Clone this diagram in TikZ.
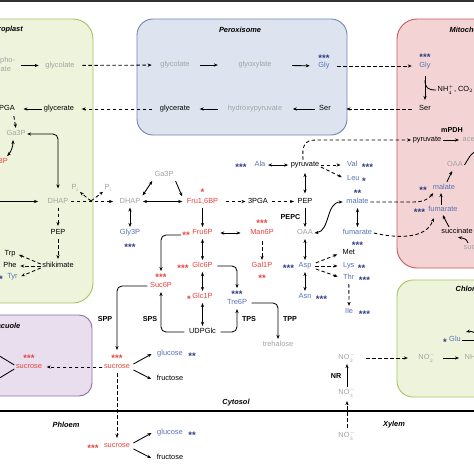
\documentclass[tikz,border=0pt]{standalone}
\usepackage{fontspec}
\setmainfont{Liberation Sans}
\usetikzlibrary{arrows.meta}
\definecolor{cgray}{HTML}{A3A3A3}
\definecolor{cred}{HTML}{E5433D}
\definecolor{cblue}{HTML}{5672B6}
\definecolor{cnavy}{HTML}{2D3C84}
\definecolor{chlfill}{HTML}{EEF3DC}
\definecolor{chldraw}{HTML}{A8C35E}
\definecolor{perfill}{HTML}{DDE4EF}
\definecolor{perdraw}{HTML}{7187B2}
\definecolor{mitfill}{HTML}{F3D3D3}
\definecolor{mitdraw}{HTML}{C65B5E}
\definecolor{vacfill}{HTML}{E8DEEE}
\definecolor{vacdraw}{HTML}{8F6EA8}
\newcommand{\fsn}{\fontsize{7.4}{9}\selectfont}
\newcommand{\fsb}{\fontsize{7.2}{8.5}\selectfont\bfseries}
\newcommand{\fsbi}{\fontsize{7.4}{8.5}\selectfont\bfseries\itshape}
\newcommand{\fss}{\fontsize{9.5}{10}\selectfont\bfseries}
\begin{document}
\begin{tikzpicture}[x=1pt,y=-1pt,
  nbase/.style={font=\fsn, inner sep=1.5pt, text height=5.3pt, text depth=1.5pt},
  ngray/.style={nbase, text=cgray},
  nred/.style={nbase, text=cred},
  nblue/.style={nbase, text=cblue},
  nblk/.style={nbase, text=black},
  nstar/.style={font=\fss, inner sep=1pt, text=cnavy},
  nrstar/.style={font=\fss, inner sep=1pt, text=cred},
  enzy/.style={font=\fsb, inner sep=1.5pt},
  titl/.style={font=\fsbi, inner sep=1.5pt},
  arr/.style={-{Stealth[length=4pt,width=3.2pt]}, line width=0.85pt},
  arr2/.style={{Stealth[length=4pt,width=3.2pt]}-{Stealth[length=4pt,width=3.2pt]}, line width=0.85pt},
  darr/.style={arr, dash pattern=on 3.5pt off 2.5pt},
  sh/.style 2 args={shorten <=#1, shorten >=#2},
  comp/.style={line width=0.9pt}]
\useasboundingbox (0,0) rectangle (474,474);
\fill[white] (0,0) rectangle (474,474);
\fill[black!80] (0,0) rectangle (474,2.2);
% compartments
\draw[comp, draw=chldraw, fill=chlfill, rounded corners=20pt] (-40,19) rectangle (93,303);
\draw[comp, draw=perdraw, fill=perfill, rounded corners=16pt] (137,19) rectangle (347,135);
\draw[comp, draw=mitdraw, fill=mitfill, rounded corners=20pt] (397,19) rectangle (520,268);
\draw[comp, draw=vacdraw, fill=vacfill, rounded corners=13pt] (-40,315) rectangle (92,396);
\draw[comp, draw=chldraw, fill=chlfill, rounded corners=16pt] (397,280) rectangle (520,397);
\draw[line width=2pt] (-5,411) -- (480,411);
% titles
\node[titl, anchor=east] (tchl) at (24.5,30) {Chloroplast};
\node[titl] (tper) at (240,30) {Peroxisome};
\node[titl, anchor=west] (tmit) at (448,30) {Mitochondrion};
\node[titl, anchor=west] (tchl2) at (454,290) {Chloroplast};
\node[titl, anchor=east] (tvac) at (22,326) {Vacuole};
\node[titl] (tcyt) at (236,403) {Cytosol};
\node[titl] (tphl) at (66,425) {Phloem};
\node[titl] (txyl) at (394,425) {Xylem};
% chloroplast
\node[font=\fsn, text=cgray, align=center, inner sep=1.5pt] (cpg) at (-3.7,65.5) {2-phospho-\\glycolate};
\node[ngray] (cgl) at (60,65.5) {glycolate};
\draw[arr, sh={4pt}{5pt}] (cpg) -- (cgl);
\node[nblk] (cgr) at (59,109) {glycerate};
\node[nblk, anchor=east] (c3p) at (16.5,109) {3PGA};
\draw[arr, sh={0pt}{7pt}] (cgr) -- (c3p);
\node[ngray] (cg3) at (16,134) {Ga3P};
\draw[darr, sh={2pt}{1pt}] ([xshift=-3pt]c3p.south east) -- (cg3.north);
\node[nred, anchor=east] (cbp) at (9.5,162) {Fru1,6BP};
\draw[arr2, sh={1pt}{1pt}] ([xshift=-3pt]cg3.south) to[bend left=20] ([xshift=-3pt]cbp.north east);
\node[ngray] (cdh) at (58,201.5) {DHAP};
\draw[arr2, rounded corners=5pt, sh={0pt}{8pt}] (cg3.east) -| (cdh.north);
\coordinate (cin) at (-5,201.5);
\draw[arr, sh={0pt}{8pt}] (cin) -- (cdh);
\node[nblk] (cpe) at (58,233) {PEP};
\draw[darr, sh={1pt}{2pt}] (cdh) -- (cpe);
\node[nblk] (csh) at (58,266) {shikimate};
\draw[darr, sh={1pt}{2pt}] (cpe) -- (csh);
\node[nblk] (ctrp) at (10,254) {Trp};
\node[nblk] (cphe) at (10,266) {Phe};
\node[nblue] (ctyr) at (12.5,277) {Tyr};
\node[nstar] (ctyrs) at (1,279) {*};
\draw[darr, sh={0pt}{2pt}] ([yshift=2pt]csh.west) -- (ctrp.east);
\draw[darr, sh={0pt}{2pt}] (csh.west) -- (cphe.east);
\draw[darr, sh={0pt}{2pt}] ([yshift=-2pt]csh.west) -- (ctyr.east);
\node[ngray] (pi1) at (75,188) {P\textsubscript{i}};
\node[ngray] (pi2) at (108,188) {P\textsubscript{i}};
\node[ngray] (ydh) at (130,201.5) {DHAP};
\draw[darr, sh={1pt}{5pt}] (cdh) -- (ydh);
\coordinate (pj) at (91,201);
\draw[darr] (pj) -- (pi1);
\draw[darr] (pj) -- (pi2);
% peroxisome
\node[ngray] (pgl) at (175,65) {glycolate};
\draw[darr, sh={6pt}{7pt}] (cgl) -- (pgl);
\node[ngray] (pgx) at (255,65) {glyoxylate};
\draw[arr, sh={9pt}{19pt}] (pgl) -- (pgx);
\node[nblue] (pgy) at (324,66) {Gly};
\node[nstar] (pgys) at (324,58) {***};
\draw[arr, sh={19pt}{7pt}] (pgx) -- (pgy);
\node[nblk] (pse) at (325,109) {Ser};
\node[ngray] (phy) at (255,109) {hydroxypyruvate};
\node[nblk] (pgr) at (175,109) {glycerate};
\draw[arr, sh={3pt}{9pt}] (pse) -- (phy);
\draw[arr, sh={8pt}{8pt}] (phy) -- (pgr);
\draw[darr, sh={6pt}{6pt}] (pgr) -- (cgr);
% mitochondrion
\node[nblue] (mgy) at (425,66) {Gly};
\node[nstar] (mgys) at (425,57.5) {***};
\draw[darr, sh={6pt}{6pt}] (pgy) -- (mgy);
\node[nblk] (mse) at (425,109) {Ser};
\draw[arr, sh={5pt}{4pt}] (mgy) -- (mse);
\draw[darr, sh={6pt}{14pt}] (mse) -- (pse);
\coordinate (brs) at (425,80);
\node[nblk, anchor=west] (nhc) at (436,90) {NH$_4^+$, CO$_2$};
\draw[line width=0.85pt] (brs) .. controls (425,88) and (428,90) .. (nhc.west);
\node[nblk] (mpy) at (427,140) {pyruvate};
\node[enzy] (mpdh) at (452,130) {mPDH};
\node[ngray, anchor=west] (mac) at (461,140) {acetyl-CoA};
\draw[arr, sh={0pt}{2pt}] (mpy) -- (mac);
\node[ngray] (moa) at (455,165) {OAA};
\coordinate (tca) at (480,150);
\draw[line width=0.85pt] (moa.east) .. controls (468,160) and (470,152) .. (tca);
\node[nblue] (mma) at (444,188) {malate};
\node[nstar] (mmas) at (423,190) {**};
\draw[arr, sh={1pt}{1pt}] (mma) -- (moa);
\node[nblue] (mfu) at (443,210) {fumarate};
\node[nstar] (mfus) at (419.5,212) {***};
\draw[arr] ([xshift=-2pt]mfu.north) -- ([xshift=-3pt]mma.south);
\node[nblk] (msu) at (457,232) {succinate};
\draw[arr] ([xshift=-8pt]msu.north) .. controls (446,223) .. (mfu.south);
\node[ngray, anchor=west] (msc) at (462,248) {succinyl-CoA};
\draw[arr] ([xshift=6pt]msc.north west) .. controls (466,239) .. ([xshift=1pt]msu.south);
% cytosol: carbohydrates
\node[ngray] (yga) at (164,175) {Ga3P};
\node[nblue] (ygy) at (130,233) {Gly3P};
\node[nstar] (ygys) at (130,247) {***};
\draw[arr2, sh={1pt}{1pt}] (ydh) -- (ygy);
\draw[arr2, sh={1pt}{1pt}] (ydh.north east) -- (yga.south west);
\node[nred] (fbp) at (202.5,201.5) {Fru1,6BP};
\node[nrstar] (fbps) at (202.5,192) {*};
\draw[arr, sh={1pt}{0pt}] (yga.south east) -- ([xshift=-3pt]fbp.north west);
\draw[arr2, sh={1pt}{3pt}] (ydh) -- (fbp);
\node[nblk] (pga) at (258,201.5) {3PGA};
\draw[darr, sh={6pt}{1pt}] (fbp) -- (pga);
\node[nblk] (pep) at (305,201.5) {PEP};
\draw[darr, sh={2pt}{2pt}] (pga) -- (pep);
\node[nred] (f6p) at (202.5,233) {Fru6P};
\node[nrstar] (f6ps) at (186,235) {**};
\draw[arr, sh={1pt}{1pt}] (fbp) -- (f6p);
\node[nred] (m6p) at (262,233) {Man6P};
\node[nrstar] (m6ps) at (262,223.5) {***};
\draw[arr2, sh={6pt}{8pt}] (f6p) -- (m6p);
\node[nred] (gal) at (262,266) {Gal1P};
\node[nrstar] (gals) at (262,278) {**};
\draw[darr, sh={3pt}{1pt}] (m6p) -- (gal);
\node[nred] (g6p) at (202.5,266) {Glc6P};
\node[nrstar] (g6ps) at (183,268) {***};
\draw[arr2, sh={1pt}{1pt}] (f6p) -- (g6p);
\node[nred] (g1p) at (202.5,297) {Glc1P};
\node[nrstar] (g1ps) at (189,299) {*};
\draw[arr2, sh={1pt}{1pt}] (g6p) -- (g1p);
\node[nblk] (udp) at (202.5,332) {UDPGlc};
\draw[arr2, sh={1pt}{1pt}] (g1p) -- (udp);
\node[nred] (s6p) at (161,286) {Suc6P};
\node[nrstar] (s6ps) at (161,277.5) {***};
\draw[arr, rounded corners=5pt, sh={0pt}{2pt}] (f6ps.west) -| (s6ps.north);
\draw[arr, rounded corners=5pt, sh={3pt}{1pt}] (udp.west) -| (s6p.south);
\node[enzy] (sps) at (150,319) {SPS};
\node[nblue] (t6p) at (237,303) {Tre6P};
\node[nstar] (t6ps) at (237,294.5) {***};
\draw[arr, rounded corners=5pt, sh={3pt}{1pt}] (udp.east) -| (t6p.south);
\node[enzy] (tps) at (249,319) {TPS};
\draw[arr, rounded corners=5pt, sh={3pt}{2pt}] (g6p.east) -| (t6ps.north);
\node[ngray] (tre) at (278,345) {trehalose};
\draw[arr, rounded corners=5pt, sh={3pt}{1pt}] (t6p.east) -| (tre.north);
\node[enzy] (tpp) at (290,319) {TPP};
\node[nred] (suc) at (117,367) {sucrose};
\node[nrstar] (sucs) at (117,358.5) {***};
\draw[arr, rounded corners=5pt, sh={1pt}{4pt}] (s6p.west) -| (sucs.north);
\node[enzy] (spp) at (105,319) {SPP};
\node[nblue] (glc) at (170,354) {glucose};
\node[nstar] (glcs) at (192,356) {**};
\node[nblk] (fru) at (170,379) {fructose};
\draw[arr, sh={2pt}{0pt}] ([yshift=2pt]suc.east) -- ([xshift=-4pt]glc.west);
\draw[arr, sh={2pt}{0pt}] ([yshift=-2pt]suc.east) -- ([xshift=-4pt]fru.west);
\node[nred] (vsuc) at (29,367) {sucrose};
\node[nrstar] (vsucs) at (29,358.5) {***};
\draw[darr, sh={0pt}{3pt}] (suc.west) -- (vsuc.east);
\coordinate (vg) at (-12,349);
\coordinate (vf) at (-12,385);
\draw[arr] ([yshift=2pt]vsuc.west) -- (vg);
\draw[arr] ([yshift=-2pt]vsuc.west) -- (vf);
\node[nred] (psuc) at (117,446) {sucrose};
\node[nrstar] (psucs) at (93,448) {***};
\draw[darr, sh={1pt}{3pt}] (suc) -- (psuc);
\node[nblue] (pglc) at (170,433) {glucose};
\node[nstar] (pglcs) at (192,435) {**};
\node[nblk] (pfru) at (170,458) {fructose};
\draw[arr, sh={2pt}{0pt}] ([yshift=2pt]psuc.east) -- ([xshift=-4pt]pglc.west);
\draw[arr, sh={2pt}{0pt}] ([yshift=-2pt]psuc.east) -- ([xshift=-4pt]pfru.west);
% cytosol: organic and amino acids
\node[nblk] (pyr) at (305,165) {pyruvate};
\node[nblue] (ala) at (260,165) {Ala};
\node[nstar] (alas) at (241,167) {***};
\draw[arr2, sh={1pt}{1pt}] (ala) -- (pyr);
\draw[arr2, sh={3pt}{3pt}] (pyr) -- (pep);
\draw[darr] ([xshift=-2pt]pyr.north) .. controls (302,146) and (304,140) .. (316,140) -- (mpy);
\node[ngray] (oaa) at (305,233) {OAA};
\draw[arr, sh={1pt}{1pt}] (pep) -- (oaa);
\node[enzy, anchor=east] (pepc) at (302,217) {PEPC};
\node[nblue] (asp) at (305,266) {Asp};
\node[nstar] (asps) at (288.5,268) {***};
\draw[arr2, sh={1pt}{1pt}] (oaa) -- (asp);
\node[nblue] (asn) at (305,297) {Asn};
\node[nstar] (asns) at (321.5,299) {***};
\draw[arr2, sh={1pt}{1pt}] (asp) -- (asn);
\node[nblue, anchor=west] (val) at (345.5,165) {Val};
\node[nstar] (vals) at (367.5,167) {***};
\node[nblue, anchor=west] (leu) at (345.5,179) {Leu};
\node[nstar] (leus) at (364,181) {*};
\draw[darr, sh={0pt}{5pt}] (pyr) -- (val);
\draw[darr, sh={0pt}{4pt}] ([yshift=-2pt]pyr.east) -- (leu.west);
\node[nblue] (mal) at (357.5,202) {malate};
\node[nstar] (mals) at (357.5,193.5) {**};
\node[nblue] (fum) at (357.5,233) {fumarate};
\node[nstar] (fums) at (357.5,245) {***};
\draw[arr2, sh={1pt}{1pt}] (mal) -- (fum);
\draw[arr2] (oaa.east) .. controls (330,231) and (326,202) .. ([xshift=-2pt]mal.west);
\draw[darr] (mal.east) -- (412,202) .. controls (422,202) and (428,200) .. ([xshift=2pt]mma.south west);
\draw[darr] (fum.east) .. controls (395,238) and (426,240) .. ([xshift=7pt,yshift=-3pt]mfu.south west);
\node[nblk, anchor=west] (met) at (341,253) {Met};
\node[nblue, anchor=west] (lys) at (341.5,266) {Lys};
\node[nstar] (lyss) at (361.5,268) {**};
\node[nblue, anchor=west] (thr) at (341.5,278) {Thr};
\node[nstar] (thrs) at (364.5,280) {***};
\draw[darr, sh={3pt}{4pt}] ([yshift=2pt]asp.east) -- (met.west);
\draw[darr, sh={2pt}{4pt}] (asp) -- (lys);
\draw[darr, sh={3pt}{4pt}] ([yshift=-2pt]asp.east) -- (thr.west);
\node[nblue, anchor=west] (ile) at (343.5,312) {Ile};
\node[nstar] (iles) at (364.5,314) {***};
\draw[darr, sh={1pt}{1pt}] (thr) -- (ile);
% nitrogen
\node[ngray] (no2c) at (347,358) {NO$_2^-$};
\node[ngray] (no2p) at (427,358) {NO$_2^-$};
\node[ngray, anchor=west] (nh4) at (463,358) {NH$_4^+$};
\draw[darr, sh={9pt}{9pt}] (no2c) -- (no2p);
\draw[arr, sh={6pt}{4pt}] (no2p) -- (nh4);
\node[ngray] (no3) at (347,393) {NO$_3^-$};
\draw[arr, sh={1pt}{1pt}] (no3) -- (no2c);
\node[enzy] (nr) at (336,376) {NR};
\node[ngray] (no3x) at (347,436) {NO$_3^-$};
\draw[darr, sh={3pt}{3pt}] (no3x) -- (no3);
\node[nblue] (glu) at (455,340) {Glu};
\node[nstar] (glus) at (445,342) {*};
\coordinate (gs1) at (480,337);
\coordinate (gse) at (466,332);
\coordinate (gs2) at (480,340);
\draw[arr] (gs1) .. controls (474,331) and (470,331) .. (gse);
\draw[line width=0.85pt] (glu.east) -- (gs2);
\end{tikzpicture}
\end{document}
